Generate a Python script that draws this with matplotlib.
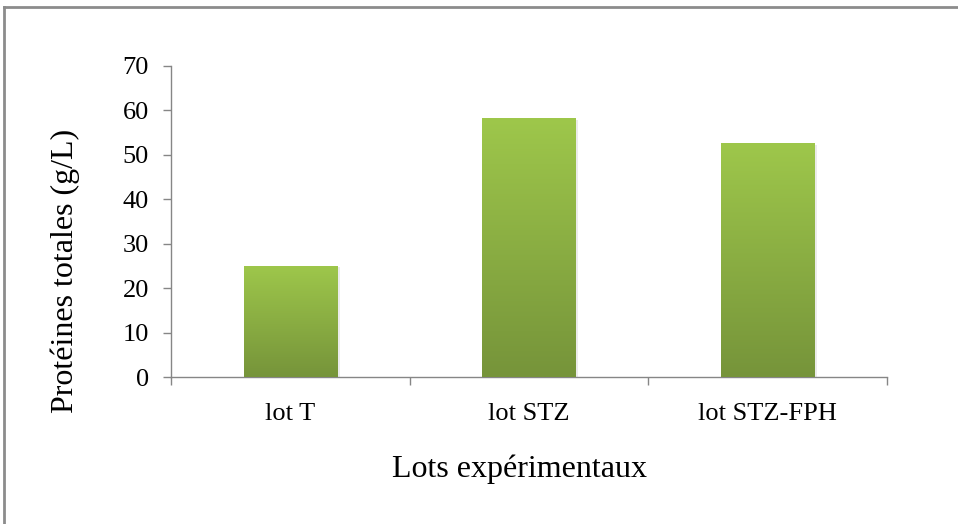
import numpy as np
import matplotlib
matplotlib.use("Agg")
import matplotlib.pyplot as plt
from matplotlib.colors import LinearSegmentedColormap
from matplotlib.lines import Line2D

categories = ["lot T", "lot STZ", "lot STZ-FPH"]
values = [25.0, 58.2, 52.6]
yticks = [0, 10, 20, 30, 40, 50, 60, 70]

plt.rcParams["font.family"] = ["Liberation Serif", "DejaVu Serif"]

fig = plt.figure(figsize=(9.58, 5.24), dpi=100)
ax = fig.add_axes([171 / 958, 1 - 377 / 524, (887 - 171) / 958, (377 - 66) / 524])

x = np.arange(len(categories))
bars = ax.bar(x, values, width=0.39, color="#8AAE44", zorder=2)

# vertical gradient inside each bar, from light green at top to olive at bottom
grad_cmap = LinearSegmentedColormap.from_list("grn", ["#76943A", "#9EC74B"])
gradient = np.linspace(0, 1, 256).reshape(-1, 1)
for b in bars:
    x0, y0 = b.get_x(), b.get_y()
    w, h = b.get_width(), b.get_height()
    # soft shadow
    ax.bar(x0 + w / 2 + 0.006, h, width=w + 0.012, bottom=-0.3,
           color="#000000", alpha=0.08, zorder=1, clip_on=False)
    im = ax.imshow(gradient, cmap=grad_cmap, aspect="auto", origin="lower",
                   extent=[x0, x0 + w, y0, y0 + h], zorder=3)
    im.set_clip_path(b)

ax.set_xlim(-0.5, len(categories) - 0.5)
ax.set_ylim(0, 70)
ax.set_yticks(yticks)
ax.set_xticks(x)
ax.set_xticklabels(categories)
ax.set_xticks(np.arange(-0.5, len(categories), 1.0), minor=True)
ax.tick_params(axis="x", which="major", length=0, pad=19, labelsize=19)
ax.tick_params(axis="x", which="minor", length=6, width=1, color="#868686", direction="out")
ax.tick_params(axis="y", length=6, width=1, color="#868686", direction="out", pad=10, labelsize=19)

for s in ["top", "right"]:
    ax.spines[s].set_visible(False)
for s in ["left", "bottom"]:
    ax.spines[s].set_color("#868686")
    ax.spines[s].set_linewidth(1)

ax.set_ylabel("Protéines totales (g/L)", fontsize=23)
ax.set_xlabel("Lots expérimentaux", fontsize=23)
ax.yaxis.set_label_coords((80 - 171) / 716, 0.5 - 49 / 311)
ax.xaxis.set_label_coords((520 - 171) / 716, (377 - 455) / 311)

# outer chart frame (top and left edges)
fig.add_artist(Line2D([4 / 958, 4 / 958], [0, 1 - 7 / 524], transform=fig.transFigure,
                      color="#8C8C8C", lw=2))
fig.add_artist(Line2D([4 / 958, 1], [1 - 7 / 524, 1 - 7 / 524], transform=fig.transFigure,
                      color="#8C8C8C", lw=2))

fig.savefig("out.png", dpi=100)
